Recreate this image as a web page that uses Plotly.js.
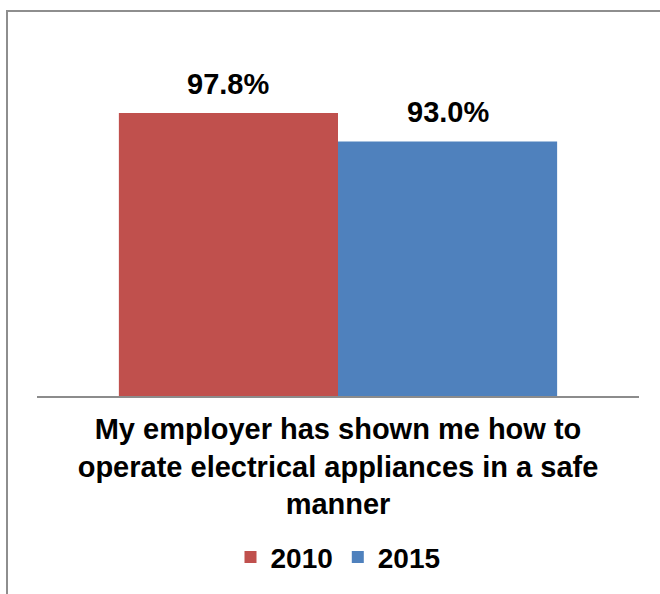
<!DOCTYPE html>
<html>
<head>
<meta charset="utf-8">
<script src="https://cdn.plot.ly/plotly-3.0.1.min.js"></script>
<style>html,body{margin:0;padding:0;background:#fff;}#chart{width:660px;height:594px;}</style>
</head>
<body>
<div id="chart"></div>
<script>
// ---- data ----
const categories = ["My employer has shown me how to<br>operate electrical appliances in a safe<br>manner"];
const seriesNames = ["2010", "2015"];
const values2010 = [97.8];
const values2015 = [93.0];
const seriesColors = ["#c0504d", "#4f81bd"];

// ---- layout constants ----
const W = 660, H = 594;
const M = {l: 37, r: 21, t: 100, b: 195};
const plotW = W - M.l - M.r;
const plotH = H - M.t - M.b;
const bargap = 0.272;
const FONT = "Liberation Sans, Arial, Helvetica, sans-serif";

const seriesValues = [values2010, values2015];
const traces = seriesValues.map((vals, i) => ({
  type: "bar",
  name: seriesNames[i],
  x: categories,
  y: vals,
  marker: {color: seriesColors[i]},
  hoverinfo: "none"
}));

// data labels above each bar
const barW = plotW * (1 - bargap) / seriesValues.length;
const annotations = [];
seriesValues.forEach((vals, i) => {
  vals.forEach((v, j) => {
    annotations.push({
      x: categories[j], y: v, xref: "x", yref: "y",
      text: v.toFixed(1) + "%",
      showarrow: false,
      yanchor: "bottom",
      xshift: (i - (seriesValues.length - 1) / 2) * barW,
      yshift: 11,
      font: {family: FONT, size: 29, color: "#000", weight: "bold"}
    });
  });
});

// outer chart border (extends past right/bottom edge)
const px2x = p => (p - M.l) / plotW;
const py2y = p => (H - M.b - p) / plotH;

const layout = {
  width: W, height: H,
  margin: M,
  paper_bgcolor: "#ffffff",
  plot_bgcolor: "#ffffff",
  barmode: "group",
  bargap: bargap,
  bargroupgap: 0,
  showlegend: true,
  legend: {
    orientation: "h",
    x: 0.5, xanchor: "center",
    y: py2y(562), yanchor: "middle",
    font: {family: FONT, size: 28, color: "#000", weight: "bold"},
    itemwidth: 30,
    tracegroupgap: 0
  },
  xaxis: {
    showline: true, linecolor: "#8c8c8c", linewidth: 2,
    showgrid: false, zeroline: false,
    ticks: "",
    ticklabelstandoff: 6,
    tickfont: {family: FONT, size: 29, color: "#000", weight: "bold"},
    fixedrange: true
  },
  yaxis: {
    range: [50, 100],
    visible: false,
    showgrid: false, zeroline: false,
    fixedrange: true
  },
  annotations: annotations,
  shapes: [{
    type: "rect", xref: "paper", yref: "paper",
    x0: px2x(7), x1: px2x(W + 20),
    y0: py2y(H + 20), y1: py2y(10),
    line: {color: "#8e8e8e", width: 2},
    fillcolor: "rgba(0,0,0,0)",
    layer: "above"
  }]
};

Plotly.newPlot("chart", traces, layout, {displayModeBar: false, staticPlot: true});
</script>
</body>
</html>
